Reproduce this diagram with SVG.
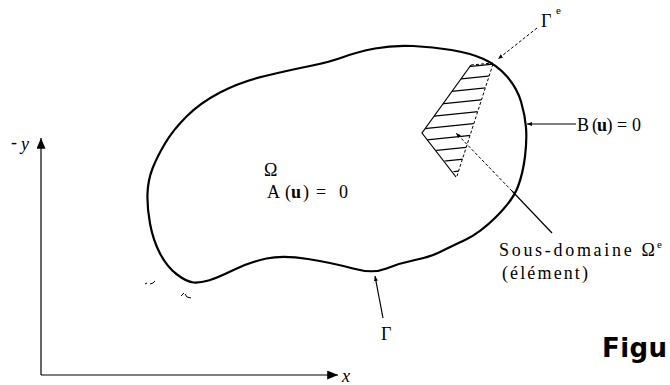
<svg xmlns="http://www.w3.org/2000/svg" width="670" height="385" viewBox="0 0 670 385">
<style>
.ln{fill:none;stroke:#000;stroke-width:1.2}
.dash{fill:none;stroke:#000;stroke-width:1;stroke-dasharray:3 2}
.outline{fill:none;stroke:#000;stroke-width:2.2;stroke-linejoin:round}
.t{font-family:"Liberation Serif","Times New Roman",serif;font-size:18px;fill:#000}
.it{font-style:italic}
.b{font-weight:bold}
.sup{font-size:11px}
.fig{font-family:"DejaVu Sans",Verdana,sans-serif;font-weight:bold;font-size:26px;fill:#000}
</style>
<defs>
<marker id="ah" viewBox="0 0 10 10" refX="10" refY="5" markerWidth="5" markerHeight="5" orient="auto" markerUnits="userSpaceOnUse">
<path d="M0,1 L10,5 L0,9 Z" fill="#000"/>
</marker>
<marker id="axis" viewBox="0 0 12 10" refX="12" refY="5" markerWidth="12" markerHeight="9" orient="auto" markerUnits="userSpaceOnUse">
<path d="M0,0 L12,5 L0,10 Z" fill="#000"/>
</marker>
<clipPath id="quad">
<polygon points="471,65 493,63 457,176 422,133"/>
</clipPath>
</defs>

<g id="axes">
<line class="ln" x1="41" y1="375" x2="41" y2="138" marker-end="url(#axis)"/>
<line class="ln" x1="41" y1="375" x2="338" y2="375" marker-end="url(#axis)"/>
<text class="t" x="11" y="148" font-size="14">-</text>
<text class="t it" x="21" y="150">y</text>
<text class="t it" x="342" y="382">x</text>
</g>

<g id="domain">
<path class="outline" d="M 186.5,116.5 Q 200,103 220,92.5 Q 240,82 265,76 Q 290,70 310,66 Q 330,62 343.5,57 Q 357,52 375,48.5 Q 393,45 413,46 Q 433,47 451.5,50 Q 470,53 483.5,59 Q 497,65 507,76.5 Q 517,88 521,101.5 Q 525,115 526,127.5 Q 527,140 525,156.5 Q 523,173 518,186.5 Q 513,200 496.5,216.5 Q 480,233 465,240 Q 450,247 440,252 Q 430,257 415,260 Q 400,263 386.5,268.5 Q 373,274 353,268.5 Q 333,263 308,259 Q 283,255 266.5,258.5 Q 250,262 233.5,270 Q 217,278 208.5,280.5 Q 200,283 193.5,282.5 Q 187,282 177,274.5 Q 167,267 160,253.5 Q 153,240 150,223.5 Q 147,207 147.5,193.5 Q 148,180 152.5,168.5 Q 157,157 165,143.5 Q 173,130 186.5,116.5 Z"/>
<text class="t" x="264" y="176">Ω</text>
<text class="t" y="198"><tspan x="267">A</tspan><tspan x="285">(</tspan><tspan x="291" class="b">u</tspan><tspan x="303">)</tspan><tspan x="316">=</tspan><tspan x="339">0</tspan></text>
<path d="M145,284 l2,-1 M150,284 l3,-1 l2,-2" stroke="#000" stroke-width="1" fill="none"/>
<path d="M181,296 l3,-3 M185,294 l2,3 l4,1" stroke="#000" stroke-width="1" fill="none"/>
</g>

<g id="element">
<g clip-path="url(#quad)" stroke="#000" stroke-width="1.2">
<line x1="415" y1="72" x2="500" y2="63.5"/>
<line x1="415" y1="83.5" x2="500" y2="75"/>
<line x1="415" y1="95" x2="500" y2="86.5"/>
<line x1="415" y1="106.5" x2="500" y2="98"/>
<line x1="415" y1="118" x2="500" y2="109.5"/>
<line x1="415" y1="129.5" x2="500" y2="121"/>
<line x1="415" y1="141" x2="500" y2="132.5"/>
<line x1="415" y1="152.5" x2="500" y2="144"/>
<line x1="415" y1="164" x2="500" y2="155.5"/>
<line x1="415" y1="175.5" x2="500" y2="167"/>
</g>
<polyline class="ln" points="471,65 422,133 456,177" stroke-width="1.5"/>
<line class="dash" x1="493" y1="64" x2="457" y2="176" stroke-dasharray="2 3"/>
<line class="dash" x1="471" y1="65" x2="493" y2="63" stroke-dasharray="2 3"/>
</g>

<g id="labels">
<text class="t" x="541" y="27">Γ</text>
<text class="t sup" x="556" y="14">e</text>
<text class="t" y="131" font-size="17"><tspan x="577">B</tspan><tspan x="592">(</tspan><tspan x="597" class="b">u</tspan><tspan x="606.5">)</tspan><tspan x="617">=</tspan><tspan x="632">0</tspan></text>
<text class="t" x="499" y="256" textLength="156" lengthAdjust="spacing">Sous-domaine Ω</text>
<text class="t sup" x="657" y="248">e</text>
<text class="t" x="502" y="279" textLength="86" lengthAdjust="spacing">(élément)</text>
<text class="t" x="381" y="340">Γ</text>
<text class="fig" x="602" y="357" textLength="65" lengthAdjust="spacing">Figu</text>
</g>

<g id="connectors">
<line class="dash" x1="537" y1="28" x2="498" y2="59" marker-end="url(#ah)"/>
<line class="ln" x1="576" y1="124" x2="527" y2="124" marker-end="url(#ah)"/>
<line class="ln" x1="552" y1="233" x2="512" y2="191"/>
<line class="dash" x1="512" y1="191" x2="456" y2="133" marker-end="url(#ah)"/>
<line class="ln" x1="383" y1="318" x2="375" y2="276" marker-end="url(#ah)"/>
</g>
</svg>
